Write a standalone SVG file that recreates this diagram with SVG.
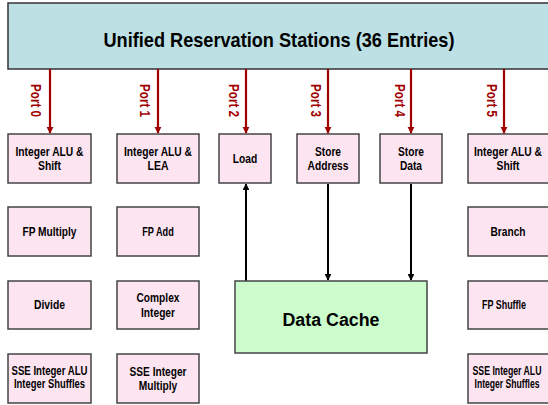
<svg xmlns="http://www.w3.org/2000/svg" width="548" height="405" viewBox="0 0 548 405">
<style>
.bg{fill:#ffffff}
.rs{fill:#bce0e3;stroke:#333;stroke-width:1.5}
.unit{fill:#fde4f1;stroke:#444;stroke-width:1.5}
.cache{fill:#ccfccc;stroke:#444;stroke-width:1.5}
.t{font-family:"Liberation Sans",Arial,sans-serif;font-weight:bold;fill:#000;text-anchor:middle}
.u{font-size:13.5px}
.s{font-size:12px}
.port{font-family:"Liberation Sans",Arial,sans-serif;font-weight:bold;font-size:14px;fill:#a00000;text-anchor:middle}
.red{stroke:#a00000;stroke-width:2.2;fill:none;marker-end:url(#ra)}
.blk{stroke:#000;stroke-width:2;fill:none;marker-end:url(#ba)}
</style>
<defs>
<marker id="ra" viewBox="0 0 10 10" refX="9" refY="5" markerWidth="3.2" markerHeight="3.2" orient="auto" markerUnits="strokeWidth"><path d="M0,0 L10,5 L0,10 z" fill="#a00000"/></marker>
<marker id="ba" viewBox="0 0 10 10" refX="9" refY="5" markerWidth="3.4" markerHeight="3.4" orient="auto" markerUnits="strokeWidth"><path d="M0,0 L10,5 L0,10 z" fill="#000"/></marker>
</defs>
<rect class="bg" x="0" y="0" width="548" height="405"/>

<g id="rs">
<rect class="rs" x="8" y="3" width="560" height="66"/>
<text class="t" x="279" y="47" font-size="21" textLength="351" lengthAdjust="spacingAndGlyphs">Unified Reservation Stations (36 Entries)</text>
</g>

<g id="connectors">
<line class="red" x1="50" y1="69" x2="50" y2="133"/>
<line class="red" x1="158" y1="69" x2="158" y2="133"/>
<line class="red" x1="246" y1="69" x2="246" y2="133"/>
<line class="red" x1="328" y1="69" x2="328" y2="133"/>
<line class="red" x1="411" y1="69" x2="411" y2="133"/>
<line class="red" x1="504" y1="69" x2="504" y2="133"/>
<line class="blk" x1="246" y1="281" x2="246" y2="184"/>
<line class="blk" x1="328" y1="184" x2="328" y2="280"/>
<line class="blk" x1="411" y1="184" x2="411" y2="280"/>
<text class="port" transform="translate(31,100.5) rotate(90)" textLength="33" lengthAdjust="spacingAndGlyphs">Port 0</text>
<text class="port" transform="translate(140,100.5) rotate(90)" textLength="33" lengthAdjust="spacingAndGlyphs">Port 1</text>
<text class="port" transform="translate(229,100.5) rotate(90)" textLength="33" lengthAdjust="spacingAndGlyphs">Port 2</text>
<text class="port" transform="translate(311,100.5) rotate(90)" textLength="33" lengthAdjust="spacingAndGlyphs">Port 3</text>
<text class="port" transform="translate(395,100.5) rotate(90)" textLength="33" lengthAdjust="spacingAndGlyphs">Port 4</text>
<text class="port" transform="translate(487,100.5) rotate(90)" textLength="33" lengthAdjust="spacingAndGlyphs">Port 5</text>
</g>

<g id="p0-alu">
<rect class="unit" x="8" y="134" width="83" height="49"/>
<text class="t u" x="49.5" y="156" textLength="68" lengthAdjust="spacingAndGlyphs">Integer ALU &amp;</text>
<text class="t u" x="49.5" y="170" textLength="23" lengthAdjust="spacingAndGlyphs">Shift</text>
</g>
<g id="p0-fpmul">
<rect class="unit" x="8" y="207" width="83" height="49"/>
<text class="t u" x="49.5" y="236" textLength="54" lengthAdjust="spacingAndGlyphs">FP Multiply</text>
</g>
<g id="p0-div">
<rect class="unit" x="8" y="281" width="83" height="48"/>
<text class="t u" x="49.5" y="309" textLength="31" lengthAdjust="spacingAndGlyphs">Divide</text>
</g>
<g id="p0-sse">
<rect class="unit" x="8" y="354" width="83" height="49"/>
<text class="t s" x="49.5" y="375" textLength="76" lengthAdjust="spacingAndGlyphs">SSE Integer ALU</text>
<text class="t s" x="49.5" y="388" textLength="71" lengthAdjust="spacingAndGlyphs">Integer Shuffles</text>
</g>

<g id="p1-alu">
<rect class="unit" x="117" y="134" width="82" height="49"/>
<text class="t u" x="158" y="156" textLength="68" lengthAdjust="spacingAndGlyphs">Integer ALU &amp;</text>
<text class="t u" x="158" y="170" textLength="21" lengthAdjust="spacingAndGlyphs">LEA</text>
</g>
<g id="p1-fpadd">
<rect class="unit" x="117" y="207" width="82" height="49"/>
<text class="t s" x="158" y="236" textLength="31.5" lengthAdjust="spacingAndGlyphs">FP Add</text>
</g>
<g id="p1-complex">
<rect class="unit" x="117" y="281" width="82" height="48"/>
<text class="t u" x="158" y="302" textLength="43" lengthAdjust="spacingAndGlyphs">Complex</text>
<text class="t u" x="158" y="317" textLength="34" lengthAdjust="spacingAndGlyphs">Integer</text>
</g>
<g id="p1-ssemul">
<rect class="unit" x="117" y="354" width="82" height="49"/>
<text class="t u" x="158" y="376" textLength="57" lengthAdjust="spacingAndGlyphs">SSE Integer</text>
<text class="t u" x="158" y="390" textLength="38.5" lengthAdjust="spacingAndGlyphs">Multiply</text>
</g>

<g id="p2-load">
<rect class="unit" x="219" y="134" width="52" height="49"/>
<text class="t u" x="245" y="163" textLength="24.5" lengthAdjust="spacingAndGlyphs">Load</text>
</g>
<g id="p3-staddr">
<rect class="unit" x="297" y="134" width="62" height="49"/>
<text class="t u" x="328" y="156" textLength="26" lengthAdjust="spacingAndGlyphs">Store</text>
<text class="t u" x="328" y="170" textLength="41" lengthAdjust="spacingAndGlyphs">Address</text>
</g>
<g id="p4-stdata">
<rect class="unit" x="380" y="134" width="62" height="49"/>
<text class="t u" x="411" y="156" textLength="26" lengthAdjust="spacingAndGlyphs">Store</text>
<text class="t u" x="411" y="170" textLength="22" lengthAdjust="spacingAndGlyphs">Data</text>
</g>

<g id="p5-alu">
<rect class="unit" x="468" y="134" width="82" height="49"/>
<text class="t u" x="508" y="156" textLength="68" lengthAdjust="spacingAndGlyphs">Integer ALU &amp;</text>
<text class="t u" x="508" y="170" textLength="23" lengthAdjust="spacingAndGlyphs">Shift</text>
</g>
<g id="p5-branch">
<rect class="unit" x="468" y="207" width="82" height="49"/>
<text class="t u" x="508" y="236" textLength="35" lengthAdjust="spacingAndGlyphs">Branch</text>
</g>
<g id="p5-fpshuf">
<rect class="unit" x="468" y="281" width="82" height="48"/>
<text class="t s" x="504" y="309" textLength="44" lengthAdjust="spacingAndGlyphs">FP Shuffle</text>
</g>
<g id="p5-sse">
<rect class="unit" x="468" y="354" width="82" height="49"/>
<text class="t s" x="507" y="375" font-size="11.5" textLength="69" lengthAdjust="spacingAndGlyphs">SSE Integer ALU</text>
<text class="t s" x="507" y="388" font-size="11.5" textLength="65" lengthAdjust="spacingAndGlyphs">Integer Shuffles</text>
</g>

<g id="cache">
<rect class="cache" x="235" y="281" width="192" height="72"/>
<text class="t" x="331" y="326" font-size="18" textLength="97" lengthAdjust="spacingAndGlyphs">Data Cache</text>
</g>
</svg>
